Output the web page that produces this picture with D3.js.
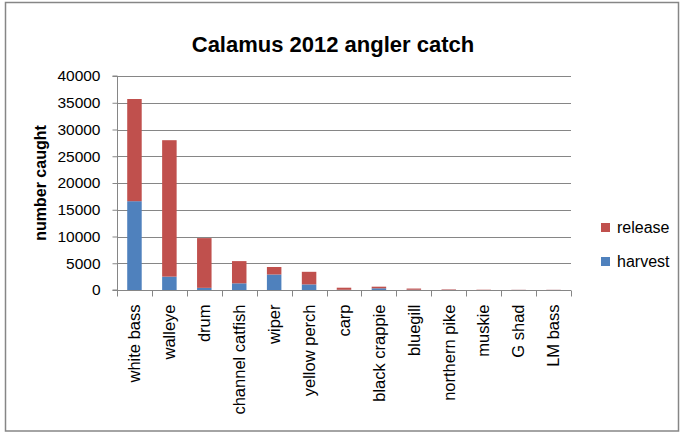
<!DOCTYPE html>
<html><head><meta charset="utf-8">
<script src="https://cdn.jsdelivr.net/npm/d3@7"></script>
<style>body{margin:0;background:#fff}svg{display:block;font-family:"Liberation Sans",Arial,sans-serif}</style>
</head><body><svg id="c" width="681" height="433"></svg>
<script>
const categories = ["white bass","walleye","drum","channel catfish","wiper","yellow perch","carp","black crappie","bluegill","northern pike","muskie","G shad","LM bass"];
const harvest = [16600,2500,400,1250,2900,1050,40,320,50,20,5,10,10];
const release = [19100,25500,9300,4150,1400,2350,390,300,220,90,50,30,30];
const yTicks = [0,5000,10000,15000,20000,25000,30000,35000,40000];
const seriesNames = ["harvest","release"];
const colors = {harvest:"#4F81BD", release:"#C0504D"};
const title = "Calamus 2012 angler catch";
const yTitle = "number caught";

(function(){
const svg = d3.select("#c");
const grey = "#868686";
svg.append("rect").attr("x",5.5).attr("y",2.5).attr("width",673).attr("height",428.5)
  .attr("fill","#fff").attr("stroke",grey).attr("stroke-width",1.5);

const pL=117, pR=571, pT=76, pB=290;
const x = d3.scaleBand().domain(categories).range([pL,pR]).padding(0);
const y = d3.scaleLinear().domain([0,40000]).range([pB,pT]);

svg.append("g").selectAll("line").data(yTicks.filter(d=>d>0)).join("line")
  .attr("x1",pL).attr("x2",pR).attr("y1",d=>Math.round(y(d))+0.5).attr("y2",d=>Math.round(y(d))+0.5)
  .attr("stroke",grey).attr("stroke-width",1);

const rows = categories.map((c,i)=>({cat:c, harvest:harvest[i], release:release[i]}));
const stack = d3.stack().keys(seriesNames)(rows);
const bw = x.bandwidth()*0.415;
svg.append("g").selectAll("g").data(stack).join("g").attr("fill",d=>colors[d.key])
  .selectAll("rect").data(d=>d).join("rect")
  .attr("x",d=>x(d.data.cat)+(x.bandwidth()-bw)/2)
  .attr("width",bw)
  .attr("y",d=>y(d[1]))
  .attr("height",d=>Math.max(0,y(d[0])-y(d[1])));

const ya = svg.append("g").attr("transform",`translate(${pL+0.5},0)`)
  .call(d3.axisLeft(y).tickValues(yTicks).tickSize(5).tickPadding(12).tickFormat(d3.format("d")));
ya.select(".domain").attr("stroke",grey).attr("d",`M-5,${pT}H0V${pB}H-5`);
ya.selectAll(".tick line").attr("stroke",grey);
ya.selectAll(".tick text").attr("font-size",15.5).attr("fill","#000").attr("font-family","Liberation Sans, Arial, sans-serif");

const xa = svg.append("g").attr("transform",`translate(0,${pB+0.5})`)
  .call(d3.axisBottom(x).tickSize(0).tickPadding(0));
xa.select(".domain").attr("stroke",grey).attr("d",`M${pL},0H${pR}`);
const bounds = categories.map(c=>x(c)).concat([x(categories[categories.length-1])+x.step()]);
xa.append("g").selectAll("line").data(bounds).join("line")
  .attr("x1",d=>Math.round(d)+0.5).attr("x2",d=>Math.round(d)+0.5).attr("y1",0).attr("y2",6).attr("stroke",grey);
xa.selectAll(".tick text").attr("font-size",16.5).attr("fill","#000").attr("font-family","Liberation Sans, Arial, sans-serif")
  .attr("text-anchor","end").attr("dy","0.35em").attr("y",0)
  .attr("transform","translate(0,14) rotate(-90)").attr("x",0);

svg.append("text").attr("x",333).attr("y",52).attr("text-anchor","middle")
  .attr("font-size",22).attr("font-weight","bold").text(title);
svg.append("text").attr("transform",`translate(46,${(pT+pB)/2}) rotate(-90)`).attr("text-anchor","middle")
  .attr("font-size",16).attr("font-weight","bold").text(yTitle);

const leg = [{k:"release",y:223},{k:"harvest",y:257}];
const lg = svg.append("g").selectAll("g").data(leg).join("g").attr("transform",d=>`translate(601,${d.y})`);
lg.append("rect").attr("width",9).attr("height",9).attr("fill",d=>colors[d.k]);
lg.append("text").attr("x",16).attr("y",10).attr("font-size",16).text(d=>d.k);
})();
</script></body></html>
